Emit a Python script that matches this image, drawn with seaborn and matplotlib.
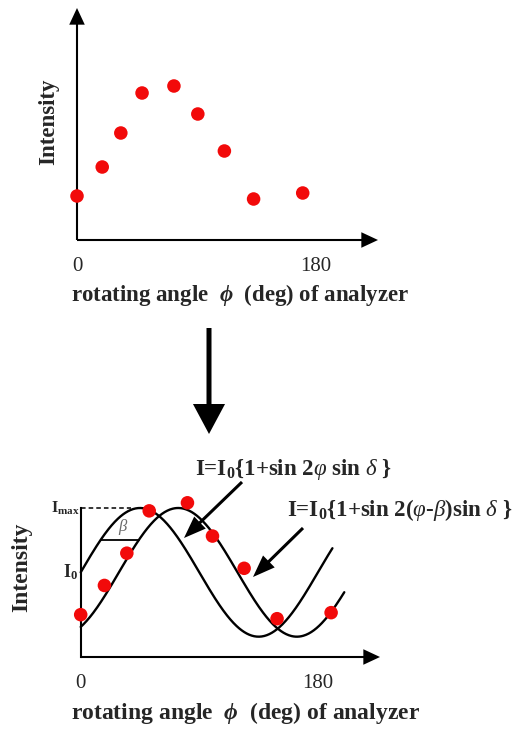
import numpy as np
import pandas as pd
import matplotlib
matplotlib.use("Agg")
import matplotlib.pyplot as plt
import seaborn as sns

# ---- data -------------------------------------------------------------
# measured intensity (arb. units) vs. analyzer rotation angle (deg)
angle_measured = [0, 19, 33, 49, 73, 91, 111, 133, 170]
intensity_measured = [44, 73, 107, 147, 154, 126, 89, 41, 47]

# the same kind of measurement shown together with the model curves
angle_fit = [0, 18, 35, 52, 81, 100, 124, 149, 190]
intensity_fit = [42, 71, 103, 145, 153, 120, 88, 38, 44]

# model parameters: I = I0 {1 + sin 2(phi - beta) sin(delta)}
I0 = 84.0
sin_delta = 0.76
beta = 29.0            # deg
phi_end_ref = 191.0    # extent of the beta = 0 curve
phi_end_shift = 200.0  # extent of the shifted curve
I_beta_marker = 116.0  # level at which beta is indicated

x_ticks = [0, 180]
x_tick_labels = ["0", "180"]
x_label = r"rotating angle  $\mathbfit{\phi}$  (deg) of analyzer"
y_label = "Intensity"
formula_ref = r"I=I$_0${1+sin 2$\varphi$ sin $\delta$ }"
formula_shift = r"I=I$_0${1+sin 2($\varphi$-$\beta$)sin $\delta$ }"

# ---- style ------------------------------------------------------------
sns.set_style("white")
plt.rcParams["font.family"] = ["Liberation Serif", "DejaVu Serif"]
plt.rcParams["mathtext.fontset"] = "custom"
plt.rcParams["mathtext.rm"] = "Liberation Serif:bold"
plt.rcParams["mathtext.it"] = "Liberation Serif:italic"
plt.rcParams["mathtext.bf"] = "Liberation Serif:bold"
plt.rcParams["mathtext.bfit"] = "Liberation Serif:bold:italic"

RED = "#f20a0a"
W, H = 523, 729
fig = plt.figure(figsize=(W / 100, H / 100), dpi=100)


def rect(left, top, right, bottom):
    return [left / W, 1 - bottom / H, (right - left) / W, (bottom - top) / H]


def fpos(x, y):
    return (x / W, 1 - y / H)


def draw_arrow(tail, head, hl, hw, tw, scale, coords):
    fig.add_artist(matplotlib.patches.FancyArrowPatch(
        tail, head, transform=coords,
        arrowstyle=f"simple,head_length={hl},head_width={hw},tail_width={tw}",
        mutation_scale=scale, color="black", lw=0,
        shrinkA=0, shrinkB=0))


def axis_arrow(ax, end):
    ax.annotate("", xy=end, xytext=(0, 0), xycoords="axes fraction",
                textcoords="axes fraction", annotation_clip=False,
                arrowprops=dict(arrowstyle="simple,head_length=0.6,head_width=0.56,tail_width=0.075",
                                mutation_scale=20, color="black", lw=0,
                                shrinkA=0, shrinkB=0))


def clean(ax):
    for s in ax.spines.values():
        s.set_visible(False)
    ax.set_yticks([])
    ax.set_xticks(x_ticks, labels=x_tick_labels)
    ax.tick_params(axis="x", length=0, pad=12, labelsize=15)
    ax.set_xlabel("")
    ax.set_ylabel("")
    ax.patch.set_alpha(0)


# ---- upper panel: raw measurement -------------------------------------
ax1 = fig.add_axes(rect(77, 8, 378, 240))
df_meas = pd.DataFrame({"angle": angle_measured, "intensity": intensity_measured})
sns.scatterplot(data=df_meas, x="angle", y="intensity", ax=ax1, color=RED,
                s=95, edgecolor="none", clip_on=False, zorder=5)
ax1.set_xlim(0, 226.7)
ax1.set_ylim(0, 232)
clean(ax1)
axis_arrow(ax1, (1, 0))
axis_arrow(ax1, (0, 1))
fig.text(*fpos(49, 122), y_label, rotation=90, ha="center", va="center",
         fontsize=16.5, fontweight="bold")
fig.text(*fpos(240, 295), x_label, ha="center", va="center",
         fontsize=16.5, fontweight="bold")

# ---- connecting arrow -------------------------------------------------
draw_arrow(fpos(209, 328), fpos(209, 434), 0.72, 0.77, 0.12, 30, fig.transFigure)

# ---- lower panel: measurement with model curves -----------------------
ax2 = fig.add_axes(rect(80.7, 508, 380, 657))
amp = I0 * sin_delta
I_max = I0 + amp

phi_a = np.linspace(0, phi_end_ref, 400)
phi_b = np.linspace(0, phi_end_shift, 400)
curve_a = I0 * (1 + np.sin(np.radians(2 * phi_a)) * sin_delta)
curve_b = I0 * (1 + np.sin(np.radians(2 * (phi_b - beta))) * sin_delta)

sns.lineplot(x=phi_a, y=curve_a, ax=ax2, color="black", lw=1.7,
             estimator=None, sort=False, clip_on=False)
sns.lineplot(x=phi_b, y=curve_b, ax=ax2, color="black", lw=1.7,
             estimator=None, sort=False, clip_on=False)

df_fit = pd.DataFrame({"angle": angle_fit, "intensity": intensity_fit})
sns.scatterplot(data=df_fit, x="angle", y="intensity", ax=ax2, color=RED,
                s=95, edgecolor="none", clip_on=False, zorder=5)

ax2.set_xlim(0, 227.1)
ax2.set_ylim(0, I_max)
clean(ax2)
ax2.spines["left"].set_visible(True)
ax2.spines["left"].set_linewidth(1.5)
ax2.spines["left"].set_color("black")
axis_arrow(ax2, (1, 0))

# I_max guide and level labels
phi_dash_end = 38
ax2.plot([0, phi_dash_end], [I_max, I_max], color="black", lw=1.1,
         ls=(0, (3, 2)), clip_on=False)
ax2.annotate(r"I$_{\rm max}$", xy=(0, I_max), xytext=(-1, 0),
             textcoords="offset points", ha="right", va="center",
             fontsize=11.5, fontweight="bold")
ax2.annotate(r"I$_0$", xy=(0, I0), xytext=(-2, 0),
             textcoords="offset points", ha="right", va="center",
             fontsize=13, fontweight="bold")

# beta shift marker between the two curves
phi_beta_a = np.degrees(np.arcsin((I_beta_marker - I0) / amp)) / 2
phi_beta_b = phi_beta_a + beta
ax2.plot([phi_beta_a, phi_beta_b], [I_beta_marker, I_beta_marker],
         color="black", lw=1.3)
ax2.text((phi_beta_a + phi_beta_b) / 2 + 3, I_beta_marker + 3, r"$\beta$",
         ha="center", va="bottom", fontsize=12, color="#6a6a6a")

fig.text(*fpos(22, 567), y_label, rotation=90, ha="center", va="center",
         fontsize=17, fontweight="bold")
fig.text(*fpos(246, 713), x_label, ha="center", va="center",
         fontsize=17, fontweight="bold")

# formulas with pointer arrows
fig.text(*fpos(195, 470), formula_ref, ha="left", va="center",
         fontsize=16.5, fontweight="bold")
fig.text(*fpos(287, 510), formula_shift, ha="left", va="center",
         fontsize=16.5, fontweight="bold")
draw_arrow(fpos(242, 482), fpos(184, 538), 0.8, 0.6, 0.11, 20, fig.transFigure)
draw_arrow(fpos(303, 528), fpos(253, 577), 0.8, 0.6, 0.11, 20, fig.transFigure)

fig.savefig("out.png", dpi=100)
